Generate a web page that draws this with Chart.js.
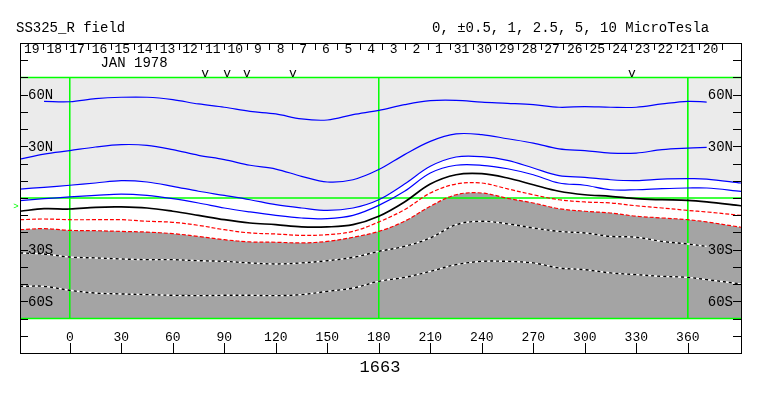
<!DOCTYPE html>
<html>
<head>
<meta charset="utf-8">
<script src="https://cdn.jsdelivr.net/npm/chart.js@4.4.0/dist/chart.umd.min.js"></script>
<style>
  body { margin: 0; background: #fff; }
  #wrap { width: 763px; height: 396px; }
</style>
</head>
<body>
<div id="wrap"><canvas id="synoptic" width="763" height="396"></canvas></div>
<script>
// Carrington longitude grid (deg) the contours are sampled on
const lons = [-29, -15, 0, 15, 30, 45, 60, 75, 90, 105, 120, 135, 150, 165, 180,
  195, 210, 225, 240, 255, 270, 285, 300, 315, 330, 345, 360, 371, 391];

// Contour latitudes (deg) per level, microTesla
const pos5 = [null, 56.1, 55.9, 57.7, 58.5, 58.5, 57.1, 54.6, 52.7, 50.3, 48.8, 45.9, 45.3, 48.4, 50.9,
  54.2, 56.5, 56.7, 55.7, 55.0, 54.2, 52.7, 53.1, 52.7, 52.7, 54.6, 56.1, 55.7, null];
const pos25 = [22.6, 25.5, 27.5, 29.6, 31.0, 30.6, 28.1, 24.8, 22.3, 19.0, 16.8, 12.6, 9.3, 10.6, 16.5,
  25.2, 32.9, 37.2, 36.8, 34.4, 31.9, 28.5, 27.5, 26.1, 26.1, 28.1, 29.0, 29.4, null];
const pos1 = [5.2, 6.2, 7.4, 8.7, 10.1, 9.3, 6.8, 3.9, 1.5, -1.0, -3.9, -5.8, -7.2, -5.8, -1.0,
  8.1, 18.4, 23.8, 24.0, 21.8, 17.4, 13.0, 12.0, 10.6, 10.1, 11.0, 11.2, 11.0, 8.7];
const pos05 = [-1.5, -0.4, 0.6, 1.5, 2.3, 1.5, -0.4, -2.9, -5.8, -8.1, -10.1, -11.6, -12.0, -10.1, -4.3,
  3.9, 14.5, 19.0, 19.0, 17.0, 13.5, 8.7, 7.4, 4.8, 4.8, 5.4, 5.8, 5.8, 3.9];
const neutral = [-7.7, -6.2, -6.4, -5.4, -5.2, -5.8, -7.7, -10.1, -12.6, -14.5, -15.5, -16.8, -16.8, -15.5, -10.6,
  -2.3, 8.1, 13.5, 14.1, 11.6, 7.7, 3.9, 1.9, 1.0, -0.4, -1.0, -1.4, -2.3, -4.5];
const neg05 = [-12.6, -12.2, -12.6, -12.6, -12.6, -13.5, -14.1, -15.9, -18.4, -20.3, -20.9, -21.7, -21.3, -19.4, -13.9,
  -6.8, 2.9, 8.1, 8.7, 5.3, 1.9, -1.0, -2.3, -2.9, -4.5, -5.8, -7.2, -8.1, -10.1];
const neg1 = [-18.4, -17.8, -18.8, -19.0, -19.4, -19.8, -20.7, -22.3, -24.2, -25.5, -25.7, -26.1, -25.2, -22.8, -19.4,
  -13.5, -4.8, 1.9, 2.9, -0.2, -2.9, -6.2, -7.7, -8.7, -10.6, -11.6, -12.6, -13.9, -17.0];
const neg25 = [-31.9, -32.5, -34.3, -34.8, -35.4, -35.8, -35.8, -36.4, -36.8, -37.7, -38.3, -37.7, -36.4, -34.5, -31.0,
  -28.1, -23.2, -15.5, -13.5, -15.0, -17.4, -19.4, -20.3, -22.3, -22.8, -25.2, -26.7, -28.1, null];
const neg5 = [-51.3, -51.3, -53.6, -55.2, -55.7, -56.1, -56.5, -56.7, -56.5, -56.5, -56.7, -56.1, -54.2, -52.3, -48.4,
  -46.1, -42.6, -38.7, -36.8, -36.8, -37.7, -40.6, -41.6, -43.5, -44.5, -45.5, -46.1, -47.4, -49.9];

// Axes / annotations
const lonTicks = [0, 30, 60, 90, 120, 150, 180, 210, 240, 270, 300, 330, 360];
const latTickVals = [60, 30, -30, -60];
const latTickText = ['60N', '30N', '30S', '60S'];
const meridians = [0, 180, 360];
const parallels = [70, 0, -70];
const days = ['19', '18', '17', '16', '15', '14', '13', '12', '11', '10', '9', '8', '7', '6', '5', '4',
  '3', '2', '1', '31', '30', '29', '28', '27', '26', '25', '24', '23', '22', '21', '20'];
const firstDayTickLon = -15.6;
const degPerDay = 13.18;
const obsLons = [78.8, 91.6, 103.2, 130.0, 327.5];
const b0Angle = -4.9;

const MONO = '"Liberation Mono", "DejaVu Sans Mono", monospace';
const LIGHT = '#ebebeb';
const DARK = '#a4a4a4';
const GREEN = '#00ff00';

function pts(arr) {
  return lons.map((lon, i) => ({ x: lon, y: arr[i] }));
}

function contour(arr, color, width, dash) {
  return {
    data: pts(arr),
    borderColor: color,
    borderWidth: width,
    borderDash: dash || [],
    pointRadius: 0,
    tension: 0.35,
    fill: false
  };
}

function straight(p1, p2, width) {
  return {
    data: [p1, p2],
    borderColor: GREEN,
    borderWidth: width,
    pointRadius: 0,
    tension: 0,
    fill: false
  };
}

const datasets = [
  contour(neg25, '#000', 1.4, [3, 3]),   // 0
  contour(neg5, '#000', 1.4, [3, 3]),    // 1
  contour(neg25, '#fff', 1.4),           // 2
  contour(neg5, '#fff', 1.4),            // 3
  contour(pos5, '#0000ff', 1.2),         // 4
  contour(pos25, '#0000ff', 1.2),        // 5
  contour(pos1, '#0000ff', 1.2),         // 6
  contour(pos05, '#0000ff', 1.2),        // 7
  contour(neutral, '#000', 1.7),         // 8
  contour(neg05, '#ff0000', 1.2, [4, 2]),// 9
  contour(neg1, '#ff0000', 1.2, [4, 2])  // 10
];
meridians.forEach((m, i) => {
  datasets.push(straight({ x: m, y: 70 }, { x: m, y: -70 }, i === 2 ? 1 : 1.5));
});
parallels.forEach(p => {
  datasets.push(straight({ x: -29, y: p }, { x: 391, y: p }, 1.5));
});
const idxTop = 11 + meridians.length;
const idxBottom = idxTop + 2;

// Polarity shading: > +1 light grey, < -1 dark grey
datasets[6].fill = { target: idxTop, above: LIGHT, below: LIGHT };
datasets[10].fill = { target: idxBottom, above: DARK, below: DARK };

// Frame, ticks, day strip and texts
const framePlugin = {
  id: 'framePlugin',
  afterDatasetsDraw(chart) {
    const { ctx, chartArea: a, scales: { x, y } } = chart;
    ctx.save();
    ctx.strokeStyle = '#000';
    ctx.fillStyle = '#000';
    ctx.lineWidth = 1;
    ctx.strokeRect(a.left + 0.5, a.top + 0.5, a.right - a.left, a.bottom - a.top);

    // latitude ticks both sides
    ctx.beginPath();
    for (let lat = -80; lat <= 80; lat += 10) {
      const py = Math.round(y.getPixelForValue(lat)) + 0.5;
      ctx.moveTo(a.left, py); ctx.lineTo(a.left + 8, py);
      ctx.moveTo(a.right - 8, py); ctx.lineTo(a.right + 1, py);
    }
    // longitude ticks at bottom
    lonTicks.forEach(l => {
      const px = Math.round(x.getPixelForValue(l)) + 0.5;
      ctx.moveTo(px, a.bottom - 10); ctx.lineTo(px, a.bottom);
    });
    // day separators
    days.forEach((d, i) => {
      const px = Math.round(x.getPixelForValue(firstDayTickLon + i * degPerDay)) + 0.5;
      ctx.moveTo(px, a.top); ctx.lineTo(px, a.top + 7);
    });
    ctx.stroke();

    ctx.font = '13px ' + MONO;
    ctx.textBaseline = 'middle';
    ctx.textAlign = 'center';
    lonTicks.forEach(l => ctx.fillText(String(l), x.getPixelForValue(l), a.bottom - 15));
    days.forEach((d, i) => {
      const lon = firstDayTickLon + (i - 0.5) * degPerDay;
      ctx.fillText(d, x.getPixelForValue(lon), a.top + 7);
    });
    obsLons.forEach(l => ctx.fillText('v', x.getPixelForValue(l), 74));

    ctx.font = '14px ' + MONO;
    ctx.textAlign = 'left';
    latTickVals.forEach((v, i) => ctx.fillText(latTickText[i], a.left + 8, y.getPixelForValue(v) + 1));
    ctx.textAlign = 'right';
    latTickVals.forEach((v, i) => ctx.fillText(latTickText[i], a.right - 8, y.getPixelForValue(v) + 1));
    ctx.textAlign = 'center';
    ctx.fillText('JAN 1978', 134, 63);

    // B0 marker
    ctx.fillStyle = GREEN;
    ctx.font = '9px ' + MONO;
    ctx.fillText('>', 16, y.getPixelForValue(b0Angle));

    ctx.fillStyle = '#000';
    ctx.textBaseline = 'alphabetic';
    ctx.textAlign = 'left';
    ctx.font = '14px ' + MONO;
    ctx.fillText('SS325_R field', 16, 32);
    ctx.fillText('0, \u00b10.5, 1, 2.5, 5, 10 MicroTesla', 432, 32);
    ctx.textAlign = 'center';
    ctx.font = '17px ' + MONO;
    ctx.fillText('1663', 380, 372);
    ctx.restore();
  }
};

new Chart(document.getElementById('synoptic'), {
  type: 'line',
  data: { datasets: datasets },
  options: {
    responsive: false,
    animation: false,
    layout: { padding: { left: 20, top: 43, right: 22, bottom: 43 } },
    plugins: {
      legend: { display: false },
      tooltip: { enabled: false },
      filler: { drawTime: 'beforeDatasetsDraw' }
    },
    scales: {
      x: { type: 'linear', min: -29, max: 391, display: false },
      y: { type: 'linear', min: -90, max: 90, display: false }
    }
  },
  plugins: [framePlugin]
});
</script>
</body>
</html>
